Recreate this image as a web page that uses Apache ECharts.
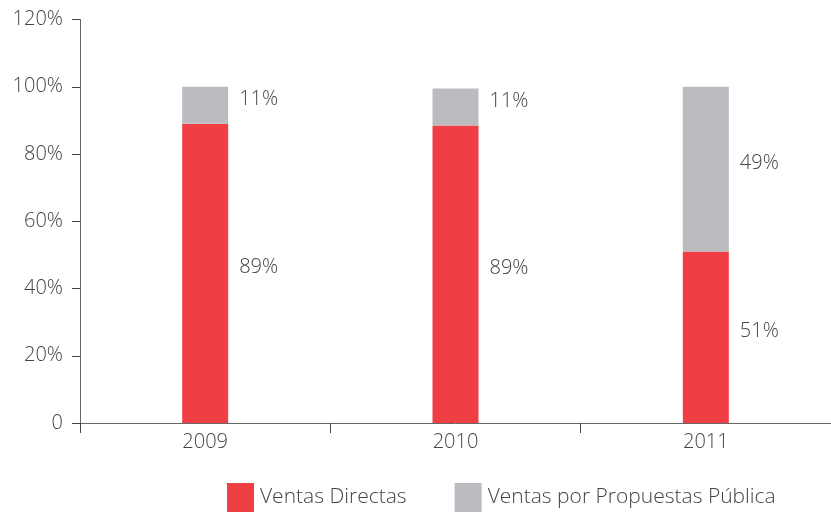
<!DOCTYPE html>
<html lang="es">
<head>
  <meta charset="UTF-8">
  <title>Ventas Directas vs Ventas por Propuestas Pública</title>
  <script src="https://cdn.jsdelivr.net/npm/echarts@6/dist/echarts.min.js"></script>
  <style>
    html, body { margin: 0; padding: 0; background: #fff; }
    #main { width: 831px; height: 512px; }
  </style>
</head>
<body>
  <div id="main"></div>

  <script>
    const years = ['2009', '2010', '2011'];
    const ventasDirectas = [89, 88.5, 51];
    const ventasPublicas = [11, 11, 49];
    const yTicks = [0, 20, 40, 60, 80, 100, 120];

    const font = "'Open Sans', sans-serif";
    const textColor = '#444';

    const chart = echarts.init(document.getElementById('main'));

    const labelStyle = {
      show: true,
      position: 'right',
      distance: 11,
      offset: [0, -6],
      color: textColor,
      fontSize: 20,
      fontFamily: font,
      fontWeight: 300,
      formatter: p => Math.round(p.value) + '%'
    };

    const option = {
      animation: false,
      grid: { left: 80, right: 0, top: 19.5, bottom: 89 },
      legend: {
        left: 222,
        top: 478,
        itemWidth: 27,
        itemHeight: 29,
        itemGap: 48,
        icon: 'rect',
        textStyle: { color: textColor, fontSize: 21, fontFamily: font, fontWeight: 300, padding: [0, 0, 0, 1] },
        data: ['Ventas Directas', 'Ventas por Propuestas Pública']
      },
      xAxis: {
        type: 'category',
        data: years,
        axisLine: { lineStyle: { color: '#666' } },
        axisTick: { show: true, length: 10, lineStyle: { color: '#444' } },
        axisLabel: { color: textColor, fontSize: 20, fontFamily: font, fontWeight: 300, margin: 9 }
      },
      yAxis: {
        type: 'value',
        min: yTicks[0],
        max: yTicks[yTicks.length - 1],
        interval: 20,
        splitLine: { show: false },
        axisLine: { show: true, lineStyle: { color: '#666' } },
        axisTick: { show: true, length: 8, lineStyle: { color: '#444' } },
        axisLabel: {
          color: textColor, fontSize: 20, fontFamily: font, fontWeight: 300, margin: 17,
          formatter: v => v === 0 ? '0' : v + '%'
        }
      },
      series: [
        {
          name: 'Ventas Directas',
          type: 'bar',
          stack: 'total',
          barWidth: 46,
          itemStyle: { color: '#ef3e44' },
          label: labelStyle,
          data: ventasDirectas
        },
        {
          name: 'Ventas por Propuestas Pública',
          type: 'bar',
          stack: 'total',
          barWidth: 46,
          itemStyle: { color: '#bbbcc0' },
          label: labelStyle,
          data: ventasPublicas
        }
      ]
    };

    chart.setOption(option);
  </script>
</body>
</html>
